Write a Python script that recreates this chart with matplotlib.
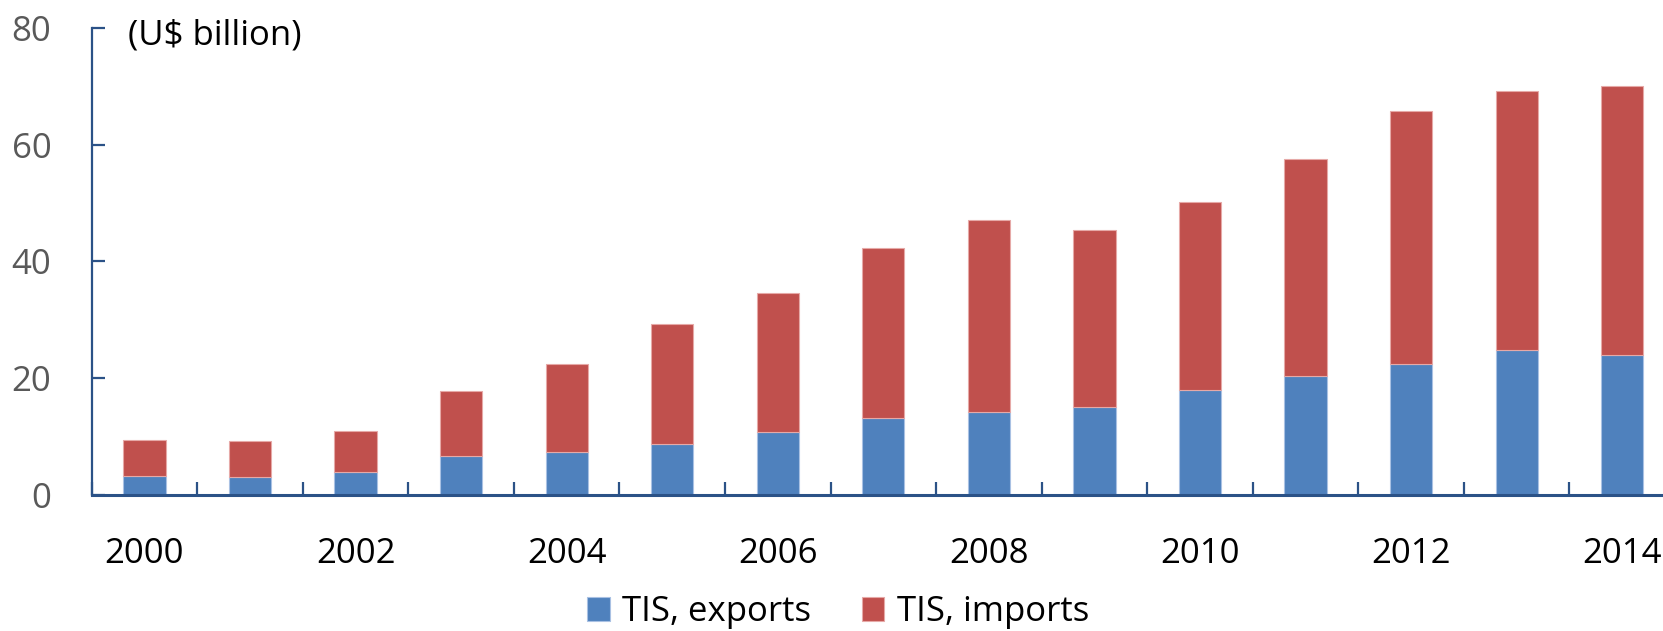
import matplotlib
matplotlib.use("Agg")
import matplotlib.pyplot as plt
import numpy as np

years = [str(y) for y in range(2000, 2015)]
exports = [3.3, 3.1, 4.0, 6.7, 7.4, 8.8, 10.7, 13.1, 14.2, 15.0, 18.0, 20.4, 22.4, 24.9, 23.9]
totals = [9.5, 9.2, 10.9, 17.8, 22.4, 29.3, 34.6, 42.3, 47.1, 45.3, 50.2, 57.5, 65.7, 69.1, 70.0]
imports = [t - e for t, e in zip(totals, exports)]
yticks = [0, 20, 40, 60, 80]
series_names = ["TIS, exports", "TIS, imports"]
unit_label = "(U$ billion)"

plt.rcParams['font.family'] = ['Open Sans', 'DejaVu Sans']

W, H = 1663, 631
fig = plt.figure(figsize=(W / 100, H / 100), dpi=100)
ax_left, ax_right, ax_bottom, ax_top = 91.7, 1675.0, 495.0, 27.7
ax = fig.add_axes([ax_left / W, 1 - ax_bottom / H, (ax_right - ax_left) / W, (ax_bottom - ax_top) / H])

blue = '#4F81BD'
red = '#C0504D'
axis_col = '#2B5287'

x = np.arange(len(years))
b1 = ax.bar(x, exports, width=0.4, color=blue, edgecolor='#A9C1E3', linewidth=0.8, label=series_names[0], zorder=2)
b2 = ax.bar(x, imports, width=0.4, bottom=exports, color=red, edgecolor='#E6A9A7', linewidth=0.8, label=series_names[1], zorder=2)

ax.set_xlim(-0.5, len(years) - 0.5)
ax.set_ylim(0, 80)

for s in ['top', 'right']:
    ax.spines[s].set_visible(False)
ax.spines['left'].set_color(axis_col)
ax.spines['left'].set_linewidth(1.6)
ax.spines['bottom'].set_color(axis_col)
ax.spines['bottom'].set_linewidth(2.2)
ax.spines['bottom'].set_zorder(3)

ax.set_yticks(yticks)
ax.set_yticklabels([str(v) for v in yticks])
ax.tick_params(axis='y', direction='in', length=9, width=1.6, color=axis_col,
               labelsize=25, labelcolor='#595959', pad=29)

# major ticks at even years (labels only), minor ticks at category boundaries
ax.set_xticks(x[::2])
ax.set_xticklabels(years[::2])
ax.tick_params(axis='x', which='major', length=0, labelsize=25, labelcolor='black', pad=30)
ax.set_xticks(np.arange(-0.5, len(years), 1.0), minor=True)
ax.tick_params(axis='x', which='minor', direction='in', length=9.5, width=1.6, color=axis_col)

ax.text(128 / W, 1 - 35 / H, unit_label, transform=fig.transFigure, fontsize=25,
        ha='left', va='center', color='black')

fig.legend(handles=[b1, b2], labels=series_names, loc='center',
           bbox_to_anchor=(838 / W, 1 - 612 / H), ncol=2, frameon=False,
           fontsize=25, handlelength=0.66, handleheight=0.66,
           handletextpad=0.35, columnspacing=1.45)

fig.savefig('out.png', dpi=100)
